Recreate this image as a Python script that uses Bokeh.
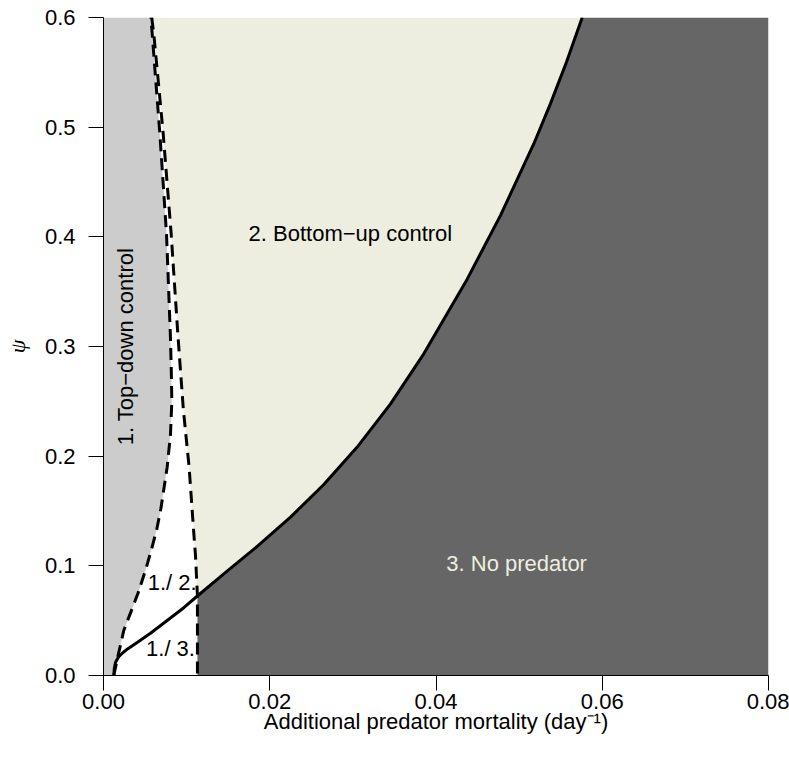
from bokeh.plotting import figure
from bokeh.embed import file_html
from bokeh.resources import INLINE
from bokeh.models import FixedTicker, PrintfTickFormatter
from bokeh.core.properties import value
import math

# ---- data ----
# solid boundary (predator persistence / no predator)
solid_x = [0.00124, 0.0013, 0.00144, 0.0018, 0.00229, 0.00289, 0.00405, 0.00565, 0.00766, 0.00966,
           0.0113, 0.01447, 0.01849, 0.0225, 0.0265, 0.03052, 0.03453, 0.03853, 0.04375, 0.04776,
           0.05177, 0.05377, 0.0557, 0.05759]
solid_y = [0.0, 0.0064, 0.0119, 0.0169, 0.0205, 0.0242, 0.0301, 0.0385, 0.0502, 0.0618,
           0.0725, 0.0927, 0.1177, 0.1444, 0.1742, 0.2083, 0.2477, 0.2933, 0.3614, 0.4196,
           0.4849, 0.5215, 0.5594, 0.6]
junction_index = 10  # solid curve meets the right dashed boundary

# left dashed boundary (top-down control)
left_x = [0.00124, 0.00175, 0.00244, 0.0033, 0.0042, 0.00505, 0.0057, 0.0064, 0.0069, 0.00766,
          0.00806, 0.00822, 0.00815, 0.00804, 0.00758, 0.00678, 0.00586, 0.0057]
left_y = [0.0, 0.0182, 0.041, 0.058, 0.076, 0.096, 0.113, 0.133, 0.152, 0.19,
          0.22, 0.25, 0.28, 0.3115, 0.4027, 0.494, 0.585, 0.6]

# right dashed boundary (bottom-up control), from top down to the axis
right_x = [0.0058, 0.00605, 0.00718, 0.00814, 0.00894, 0.0096, 0.0103, 0.01087, 0.01107, 0.0113, 0.0113]
right_y = [0.6, 0.585, 0.494, 0.4027, 0.3115, 0.243, 0.19, 0.129, 0.109, 0.0725, 0.0]

x_ticks = [0.0, 0.02, 0.04, 0.06, 0.08]
y_ticks = [0.0, 0.1, 0.2, 0.3, 0.4, 0.5, 0.6]
x_lim = (0.0, 0.08)
y_lim = (0.0, 0.6)

labels_text = ["2. Bottom\u2212up control", "1./ 2.", "1./ 3."]
labels_x = [0.0297, 0.00826, 0.00806]
labels_y = [0.403, 0.0851, 0.0243]

GREY = "#CCCCCC"
IVORY = "#EEEEE0"
DARK = "#666666"
FONT = "Liberation Sans"
FS = "22px"

p = figure(frame_width=665, frame_height=658, x_range=x_lim, y_range=y_lim,
           min_border_left=103, min_border_top=17, min_border_right=21, min_border_bottom=78,
           output_backend="svg", toolbar_location=None)
p.outline_line_color = None
p.grid.visible = False
p.background_fill_color = "white"

# regions
gx = [x_lim[0]] + left_x + [x_lim[0]]
gy = [y_lim[0]] + left_y + [y_lim[1]]
p.patch(gx, gy, fill_color=GREY, line_color=None)

jx = solid_x[junction_index:]
jy = solid_y[junction_index:]
bx = right_x[:-2] + jx
by = right_y[:-2] + jy
p.patch(bx, by, fill_color=IVORY, line_color=None)

dx = [jx[0], right_x[-1], x_lim[1], x_lim[1]] + jx[::-1]
dy = [jy[0], y_lim[0], y_lim[0], y_lim[1]] + jy[::-1]
p.patch(dx, dy, fill_color=DARK, line_color=None)

# boundaries
p.line(left_x, left_y, line_color="black", line_width=3, line_dash="12 7", line_join="round")
p.line(right_x, right_y, line_color="black", line_width=3, line_dash="12 7", line_join="round")
p.line(solid_x, solid_y, line_color="black", line_width=3, line_join="round")

# texts
p.text(labels_x, labels_y, text=labels_text, text_font=value(FONT), text_font_size=FS,
       text_align="center", text_baseline="middle", text_color="black")
p.text([0.0497], [0.102], text=["3. No predator"], text_font=value(FONT), text_font_size=FS,
       text_align="center", text_baseline="middle", text_color=IVORY)
p.text([0.00265], [0.3], text=["1. Top\u2212down control"], angle=math.pi / 2,
       text_font=value(FONT), text_font_size=FS,
       text_align="center", text_baseline="middle", text_color="black")

# axes
for ax in (p.xaxis[0], p.yaxis[0]):
    ax.major_tick_out = 15
    ax.major_tick_in = 0
    ax.minor_tick_line_color = None
    ax.axis_line_color = "black"
    ax.major_tick_line_color = "black"
    ax.major_label_text_font = FONT
    ax.major_label_text_font_size = FS
    ax.major_label_text_color = "black"
    ax.axis_label_text_color = "black"

p.xaxis.ticker = FixedTicker(ticks=x_ticks)
p.yaxis.ticker = FixedTicker(ticks=y_ticks)
p.xaxis.formatter = PrintfTickFormatter(format="%.2f")
p.yaxis.formatter = PrintfTickFormatter(format="%.1f")
p.xaxis.major_label_standoff = 3
p.yaxis.major_label_standoff = 13

p.xaxis.axis_label = "Additional predator mortality (day\u207b\u00b9)"
p.xaxis.axis_label_text_font = FONT
p.xaxis.axis_label_text_font_size = FS
p.xaxis.axis_label_text_font_style = "normal"
p.xaxis.axis_label_standoff = -3

p.yaxis.axis_label = "\u03c8"
p.yaxis.axis_label_text_font = "Liberation Serif"
p.yaxis.axis_label_text_font_size = FS
p.yaxis.axis_label_text_font_style = "italic"
p.yaxis.axis_label_standoff = 12

open("out.html", "w").write(file_html(p, INLINE))
